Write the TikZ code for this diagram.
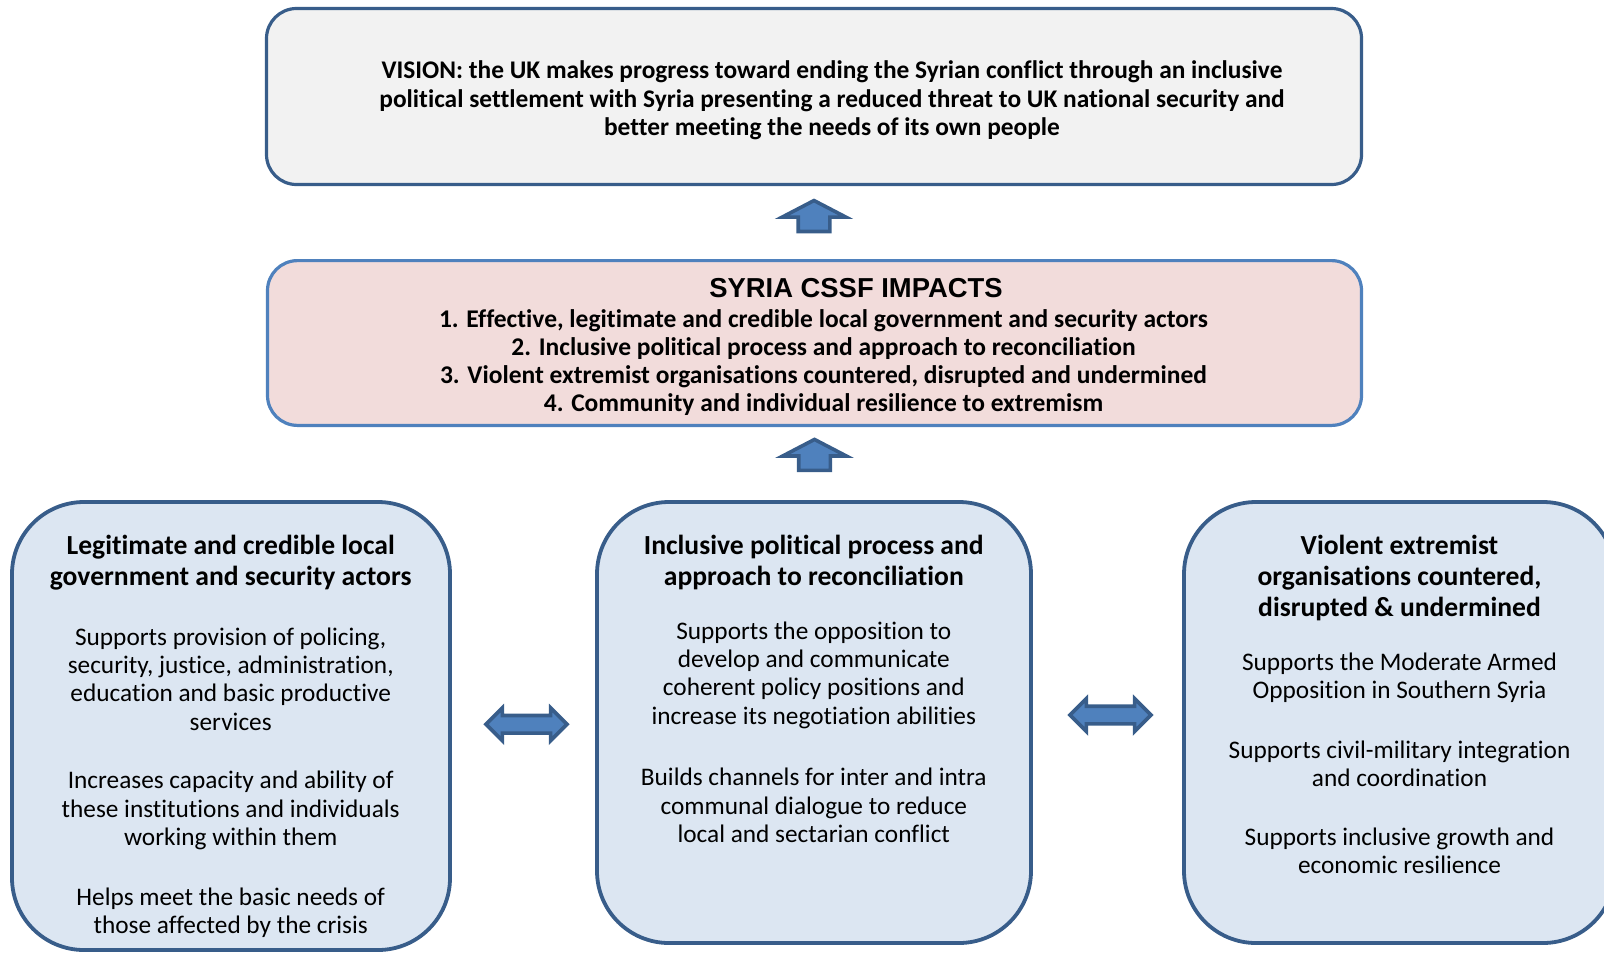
\documentclass[tikz,border=0pt]{standalone}
\usepackage{fontspec}
\setmainfont{Carlito}[Ligatures=NoCommon]
\newfontfamily\headfont{Liberation Sans}
\usetikzlibrary{shapes.arrows,calc,positioning}
\definecolor{edgeblue}{HTML}{385D8A}
\definecolor{lightedge}{HTML}{4F81BD}
\definecolor{visionfill}{HTML}{F2F2F2}
\definecolor{impactfill}{HTML}{F2DCDB}
\definecolor{outcomefill}{HTML}{DCE6F2}
\definecolor{arrowfill}{HTML}{4F81BD}

\begin{document}
\begin{tikzpicture}[
  x=0.5pt, y=-0.5pt,
  card/.style={rectangle, inner sep=0pt, outer sep=0pt},
  visionbox/.style={card, draw=edgeblue, fill=visionfill, line width=1.6pt,
    rounded corners=15pt, minimum width=547.5pt, minimum height=88pt},
  impactbox/.style={card, draw=lightedge, fill=impactfill, line width=1.6pt,
    rounded corners=15pt, minimum width=547pt, minimum height=82.4pt},
  outcomebox/.style={card, draw=edgeblue, fill=outcomefill, line width=1.9pt,
    rounded corners=36pt, minimum height=220.5pt},
  upblock/.style={single arrow, draw=edgeblue, fill=arrowfill, line width=1.8pt,
    rotate=90, inner xsep=0pt, inner ysep=7pt, minimum height=15.5pt,
    single arrow head extend=8pt, single arrow tip angle=125, anchor=tip},
  twinblock/.style={double arrow, draw=edgeblue, fill=arrowfill, line width=1.8pt,
    inner xsep=0pt, inner ysep=3.5pt, minimum height=40.5pt,
    double arrow head extend=3.8pt, double arrow tip angle=90},
  boldtxt/.style={align=center, inner sep=0pt, font=\fontsize{12.7}{14.3}\bfseries\selectfont},
  titletxt/.style={align=center, inner sep=0pt, font=\fontsize{13.8}{15.35}\bfseries\selectfont},
  bodytxt/.style={align=center, inner sep=0pt, font=\fontsize{12.65}{14.15}\selectfont}
]
  \useasboundingbox (0,0) rectangle (1604,954);
  \clip (0,0) rectangle (1604,954);

  % vision banner
  \node[visionbox] (vision) at (814, 96.5) {};
  \node[boldtxt] (visiontext) at (832, 100.5) {VISION: the UK makes progress toward ending the Syrian conflict through an inclusive\\
    political settlement with Syria presenting a reduced threat to UK national security and\\
    better meeting the needs of its own people};

  % impacts
  \node[impactbox] (impacts) at (814.5, 343) {};
  \node[inner sep=0pt, font=\headfont\fontsize{13.7}{16}\bfseries\selectfont] (impacthead) at (856, 288) {SYRIA CSSF IMPACTS};
  \node[boldtxt, font=\fontsize{12.75}{14.15}\bfseries\selectfont] (impactlist) at (823.5, 362.5) {1. Effective, legitimate and credible local government and security actors\\
    2. Inclusive political process and approach to reconciliation\\
    3. Violent extremist organisations countered, disrupted and undermined\\
    4. Community and individual resilience to extremism};

  % three outcome cards
  \node[outcomebox, minimum width=219pt, minimum height=224pt] (govbox) at (231, 726) {};
  \node[outcomebox, minimum width=217pt] (polbox) at (814, 722.5) {};
  \node[outcomebox, minimum width=215.5pt] (vebox) at (1399.5, 722.5) {};

  \node[titletxt] (govtitle) at (230.7, 562.5) {Legitimate and credible local\\government and security actors};
  \node[bodytxt] (govone) at (230.7, 679) {Supports provision of policing,\\security, justice, administration,\\education and basic productive\\services};
  \node[bodytxt] (govtwo) at (230.7, 810.5) {Increases capacity and ability of\\these institutions and individuals\\working within them};
  \node[bodytxt] (govthree) at (230.7, 912.5) {Helps meet the basic needs of\\those affected by the crisis};

  \node[titletxt] (poltitle) at (813.8, 562.5) {Inclusive political process and\\approach to reconciliation};
  \node[bodytxt] (polone) at (813.8, 675) {Supports the opposition to\\develop and communicate\\coherent policy positions and\\increase its negotiation abilities};
  \node[bodytxt] (poltwo) at (813.8, 805.5) {Builds channels for inter and intra\\communal dialogue to reduce\\local and sectarian conflict};

  \node[titletxt] (vetitle) at (1399.5, 578) {Violent extremist\\organisations countered,\\disrupted \& undermined};
  \node[bodytxt] (veone) at (1399.5, 677.5) {Supports the Moderate Armed\\Opposition in Southern Syria};
  \node[bodytxt] (vetwo) at (1399.5, 764) {Supports civil-military integration\\and coordination};
  \node[bodytxt] (vethree) at (1399.5, 851) {Supports inclusive growth and\\economic resilience};

  % block arrows between the levels
  \node[upblock] (uptop) at ($(vision.south)+(0,14)$) {};
  \node[upblock] (upmid) at ($(impacts.south)+(0,12)$) {};
  \node[twinblock] (linkleft) at ($($(govbox.east)!0.5!(polbox.west)$)+(3,0)$) {};
  \node[twinblock] (linkright) at ($($(polbox.east)!0.5!(vebox.west)$)+(3,-7.5)$) {};

\end{tikzpicture}
\end{document}
